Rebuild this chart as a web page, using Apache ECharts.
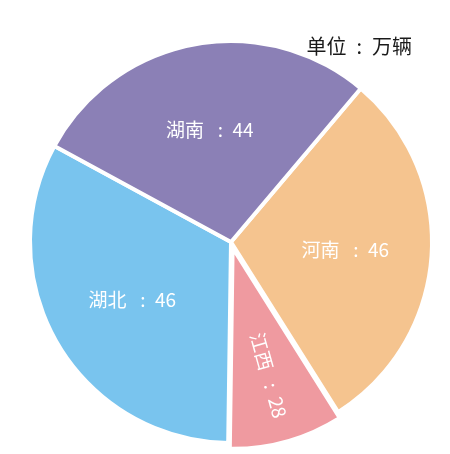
<!DOCTYPE html>
<html><head><meta charset="utf-8">
<script src="https://cdn.jsdelivr.net/npm/echarts@6/dist/echarts.min.js"></script>
<style>html,body{margin:0;padding:0;background:#fff}#c{width:450px;height:454px}</style>
</head><body><div id="c"></div>
<script>
const categories = ['河南', '江西', '湖北', '湖南'];
const labelValues = [46, 28, 46, 44];
// slice sizes as drawn in the picture (angular shares)
const sliceShares = [107.6, 33, 117.7, 101.7];
const colors = ['#f5c48f', '#ef9aa0', '#79c4ee', '#8b80b6'];
const unitText = '单位\u2002:\u2002万辆';

const font = '"Noto Sans CJK SC", "Noto Sans", sans-serif';
const chart = echarts.init(document.getElementById('c'));
const mkData = (withStyle, showFn) => categories.map((n, i) => ({
  name: n,
  value: sliceShares[i],
  selected: i === 1,
  itemStyle: withStyle ? { color: colors[i] } : { color: 'rgba(0,0,0,0)' },
  label: { show: showFn ? showFn(i) : false, rotate: i === 1 ? 'radial' : 0 }
}));
const center = [231, 242];
const labelCfg = {
  show: true, position: 'inside', color: '#fff', fontFamily: font, fontSize: 19,
  formatter: p => p.name + '\u2002 :\u2002' + labelValues[p.dataIndex]
};
const base = {
  type: 'pie', center: center, startAngle: 49.8, clockwise: true,
  selectedMode: 'single', selectedOffset: 6,
  labelLine: { show: false }, emphasis: { disabled: true }
};
chart.setOption({
  animation: false,
  title: {
    text: unitText, right: 33, top: 31,
    textStyle: { fontFamily: font, fontSize: 20, fontWeight: 'normal', color: '#1a1a1a' }
  },
  series: [
    Object.assign({}, base, {
      radius: [0, 201],
      itemStyle: { borderColor: '#fff', borderWidth: 4 },
      label: { show: false },
      data: mkData(true, null)
    }),
    Object.assign({}, base, {
      radius: [22, 201], silent: true, itemStyle: { borderWidth: 0 },
      label: labelCfg,
      data: mkData(false, i => i !== 1)
    }),
    Object.assign({}, base, {
      radius: [58, 201], silent: true, itemStyle: { borderWidth: 0 },
      label: labelCfg,
      data: mkData(false, i => i === 1)
    })
  ]
});
</script></body></html>
